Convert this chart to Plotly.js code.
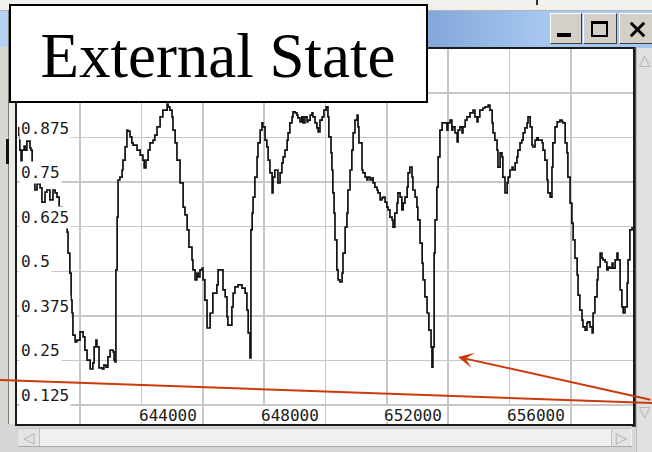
<!DOCTYPE html>
<html><head><meta charset="utf-8">
<script src="https://cdn.plot.ly/plotly-3.0.1.min.js"></script>
<style>
html,body{margin:0;padding:0;width:652px;height:452px;overflow:hidden;background:#dcdad4;}
#wrap{position:relative;width:652px;height:452px;}
.c{position:absolute;box-sizing:border-box;}
.btn{background:#d4d0c8;border-top:1px solid #ffffff;border-left:1px solid #ffffff;border-bottom:1px solid #404040;border-right:1px solid #404040;}
.g{font-family:"DejaVu Sans";color:#b0b0b0;font-size:15px;line-height:18px;text-align:center;}
#chart{position:absolute;left:0;top:0;width:652px;height:452px;}
</style></head><body>
<div id="wrap">
  <!-- window chrome -->
  <div class="c" style="left:0;top:0;width:652px;height:11px;background:#f1f0ec;border-bottom:1px solid #b4b4b4"></div>
  <div class="c" style="left:536px;top:0;width:2px;height:5px;background:#303030"></div>
  <div class="c" style="left:0;top:11px;width:652px;height:38px;background:linear-gradient(to right,#7599d0 0px,#7599d0 380px,#a6c8f0 545px,#a6c8f0 652px)"></div>
  <div class="c" style="left:0;top:11px;width:8px;height:36px;background:#b6d2f2"></div>
  <div class="c" style="left:0;top:47px;width:17px;height:405px;background:#d8d6d0"></div>
  <div class="c" style="left:8px;top:10px;width:1px;height:442px;background:#7c7c7c"></div>
  <div class="c" style="left:9px;top:47px;width:6px;height:405px;background:#eceae4"></div>
  <div class="c" style="left:15px;top:47px;width:2px;height:405px;background:#a8a8a8"></div>
  <div class="c" style="left:6px;top:139px;width:3px;height:25px;background:#101010"></div>
  <div class="c" style="left:0;top:424px;width:652px;height:28px;background:#d6d6d6"></div>
  <div class="c" style="left:18px;top:428px;width:614px;height:19px;background:#f0f0f0;border-top:1px solid #c4c4c4;border-bottom:1px solid #a8a8a8"></div>
  <div class="c g" style="left:18px;top:429px;width:22px;height:17px;background:#e4e4e4;border-right:1px solid #c0c0c0">&#9665;</div>
  <div class="c g" style="left:611px;top:429px;width:20px;height:17px;background:#e4e4e4;border-left:1px solid #c0c0c0">&#9655;</div>
  <div class="c" style="left:632px;top:47px;width:4px;height:380px;background:#4a4a4a"></div>
  <div class="c" style="left:636px;top:48px;width:16px;height:404px;background:#e0e0e0;border-left:1px solid #bcbcbc"></div>
  <div class="c g" style="left:637px;top:51px;width:15px;height:18px;">&#9651;</div>
  <div class="c g" style="left:637px;top:403px;width:15px;height:18px;">&#9661;</div>
  <div class="c btn" style="left:550px;top:13px;width:32px;height:31px"></div>
  <div class="c" style="left:557px;top:33px;width:14px;height:4px;background:#000"></div>
  <div class="c btn" style="left:583px;top:13px;width:34px;height:31px"></div>
  <div class="c" style="left:591px;top:21px;width:17px;height:16px;border:2px solid #000;border-top-width:3px"></div>
  <div class="c btn" style="left:619px;top:13px;width:36px;height:31px"></div>
  <div class="c" style="left:628px;top:28px;width:19px;height:3px;background:#000;transform:rotate(45deg)"></div>
  <div class="c" style="left:628px;top:28px;width:19px;height:3px;background:#000;transform:rotate(-45deg)"></div>
  <div id="chart"></div>
</div>
<script>
// ---- data ----
var position = [637980,638010,638040,638080,638110,638180,638210,638270,638340,638370,638400,638440,638470,638530,638600,638700,638760,638860,638920,639020,639120,639190,639250,639320,639410,639540,639580,639610,639670,639710,639740,639770,639840,639900,640000,640100,640160,640230,640330,640420,640460,640520,640550,640620,640720,640780,640850,640910,640980,641080,641110,641140,641170,641210,641240,641300,641370,641400,641470,641530,641560,641630,641690,641730,641860,641960,642050,642090,642150,642220,642280,642380,642440,642510,642610,642700,642840,642870,642930,643000,643030,643100,643160,643260,643360,643420,643490,643550,643650,643680,643750,643810,643850,643910,643980,644010,644070,644140,644240,644330,644460,644500,644630,644660,644730,644790,644820,644950,644990,645050,645150,645280,645380,645440,645480,645540,645570,645610,645640,645700,645770,645800,645870,645930,645960,646030,646090,646130,646190,646260,646290,646350,646420,646450,646520,646580,646620,646680,646750,646780,646840,646910,646940,647010,647070,647100,647170,647230,647270,647330,647400,647430,647500,647560,647590,647660,647720,647760,647820,647890,647950,648020,648080,648110,648180,648210,648240,648280,648310,648370,648410,648470,648540,648570,648640,648700,648730,648800,648860,648900,648960,649030,649060,649090,649190,649220,649290,649350,649380,649450,649520,649550,649610,649680,649710,649780,649840,649870,649940,650000,650040,650100,650170,650200,650260,650330,650360,650430,650490,650530,650590,650660,650690,650750,650820,650850,650920,650980,651010,651080,651150,651180,651240,651310,651370,651440,651470,651500,651540,651570,651630,651670,651730,651800,651890,651960,651990,652060,652120,652150,652220,652290,652320,652380,652450,652480,652550,652610,652710,652810,652870,652940,652970,653030,653130,653200,653300,653360,653430,653460,653520,653590,653620,653690,653750,653780,653850,653920,653950,654010,654080,654110,654180,654240,654270,654340,654400,654440,654500,654570,654600,654670,654730,654760,654830,654890,654930,654990,655060,655090,655150,655220,655250,655320,655380,655410,655480,655550,655640,655710,655740,655810,655870,655900,655970,656030,656070,656130,656200,656230,656290,656360,656390,656460,656520,656550,656620,656690,656720,656780,656850,656880,656950,657010,657040,657110,657170,657210,657270,657340,657370,657440,657500,657530,657600,657660,657700,657760,657830,657860,657920,657990];
var stateValue = [0.902,0.882,0.840,0.804,0.840,0.851,0.840,0.865,0.865,0.846,0.840,0.804,0.756,0.728,0.745,0.734,0.694,0.722,0.728,0.700,0.728,0.720,0.708,0.680,0.677,0.630,0.610,0.551,0.495,0.419,0.383,0.321,0.302,0.307,0.330,0.316,0.279,0.251,0.226,0.243,0.288,0.307,0.288,0.229,0.226,0.237,0.231,0.260,0.279,0.274,0.251,0.246,0.504,0.652,0.756,0.764,0.784,0.812,0.849,0.896,0.893,0.877,0.860,0.854,0.840,0.826,0.812,0.790,0.812,0.840,0.860,0.868,0.882,0.905,0.933,0.952,0.969,0.961,0.952,0.933,0.896,0.860,0.812,0.748,0.680,0.658,0.616,0.568,0.532,0.504,0.476,0.495,0.484,0.504,0.509,0.476,0.419,0.341,0.383,0.439,0.462,0.504,0.504,0.448,0.428,0.372,0.349,0.400,0.439,0.456,0.462,0.453,0.439,0.391,0.327,0.257,0.616,0.663,0.708,0.764,0.821,0.860,0.896,0.916,0.905,0.868,0.849,0.812,0.776,0.720,0.764,0.784,0.784,0.748,0.776,0.804,0.821,0.840,0.868,0.888,0.916,0.933,0.947,0.944,0.938,0.930,0.919,0.933,0.916,0.933,0.919,0.924,0.938,0.944,0.933,0.916,0.902,0.891,0.924,0.933,0.952,0.961,0.933,0.877,0.832,0.784,0.720,0.663,0.588,0.504,0.476,0.470,0.495,0.551,0.624,0.663,0.728,0.784,0.840,0.888,0.924,0.938,0.905,0.860,0.784,0.776,0.764,0.756,0.764,0.756,0.762,0.748,0.736,0.728,0.720,0.700,0.706,0.708,0.694,0.680,0.672,0.652,0.644,0.624,0.663,0.691,0.720,0.708,0.672,0.691,0.708,0.736,0.776,0.792,0.764,0.728,0.708,0.680,0.644,0.579,0.523,0.476,0.428,0.383,0.335,0.288,0.231,0.288,0.551,0.644,0.736,0.821,0.896,0.916,0.916,0.896,0.916,0.924,0.896,0.905,0.888,0.863,0.896,0.905,0.888,0.905,0.924,0.933,0.944,0.952,0.933,0.919,0.933,0.952,0.958,0.961,0.966,0.952,0.916,0.888,0.868,0.840,0.792,0.832,0.821,0.764,0.720,0.748,0.764,0.784,0.792,0.784,0.804,0.821,0.840,0.860,0.868,0.888,0.902,0.916,0.933,0.905,0.854,0.849,0.868,0.874,0.868,0.868,0.860,0.840,0.812,0.756,0.720,0.708,0.792,0.860,0.905,0.919,0.924,0.919,0.916,0.860,0.832,0.764,0.691,0.635,0.588,0.537,0.490,0.433,0.391,0.363,0.344,0.335,0.355,0.358,0.344,0.327,0.383,0.428,0.476,0.512,0.551,0.537,0.532,0.526,0.504,0.512,0.509,0.523,0.509,0.532,0.551,0.532,0.448,0.400,0.383,0.400,0.467,0.532,0.616,0.624];
var yTickVals = [0.125,0.25,0.375,0.5,0.625,0.75,0.875];
var yTickText = ['0.125','0.25','0.375','0.5','0.625','0.75','0.875'];
var yGridVals = [0.125,0.25,0.375,0.5,0.625,0.75,0.875,1.0];
var xTickVals = [644000,648000,652000,656000];
var xTickText = ['644000','648000','652000','656000'];
var xGridVals = [640000,642000,644000,646000,648000,650000,652000,654000,656000];
var chartTitle = 'External State';

// ---- layout helpers (pixel -> paper for decorations) ----
var L = 17, T = 49, PW = 616, PH = 375;
function px(x){ return (x - L) / PW; }
function py(y){ return (T + PH - y) / PH; }

var tickFont = {family:'DejaVu Sans Mono, monospace', size:16, color:'#1a1a1a'};
var annotations = [];
var shapes = [];
yTickVals.forEach(function(v, i){
  annotations.push({xref:'paper', x:px(19), xanchor:'left', yref:'y', y:v, yanchor:'bottom', yshift:-2,
    text:yTickText[i], showarrow:false, bgcolor:'#ffffff', borderpad:1, font:tickFont});
});
xTickVals.forEach(function(v, i){
  // white backing behind the x tick label, masking the grid only
  shapes.push({type:'rect', xref:'x', xsizemode:'pixel', xanchor:v, x0:-65, x1:-3,
    yref:'paper', y0:py(422), y1:py(406), line:{width:0}, fillcolor:'#ffffff', layer:'above'});
  annotations.push({xref:'x', x:v, xanchor:'right', xshift:-4, yref:'paper', y:py(415), yanchor:'middle',
    text:xTickText[i], showarrow:false, borderpad:1, font:tickFont});
});
var red = '#cc3a0a';
annotations.push({xref:'paper', yref:'paper', x:px(458), y:py(357), ax:194, ay:43, axref:'pixel', ayref:'pixel',
  text:'', showarrow:true, arrowhead:3, arrowsize:1.3, arrowwidth:2, arrowcolor:red, standoff:0});

shapes.push(
  {type:'rect', xref:'paper', yref:'paper', x0:px(10), x1:px(427), y0:py(102), y1:py(5),
   line:{color:'#000', width:2}, fillcolor:'#ffffff', layer:'above'},
  {type:'line', xref:'paper', yref:'paper', x0:px(0), y0:py(380), x1:px(652), y1:py(403),
   line:{color:red, width:2}, layer:'above'}
);

var trace = {type:'scatter', mode:'lines', x:position, y:stateValue,
  line:{color:'#111111', width:1.7, shape:'hv'}, hoverinfo:'skip'};

var layout = {
  width:652, height:452,
  margin:{l:L, r:652-L-PW, t:T, b:452-T-PH, pad:0},
  paper_bgcolor:'rgba(0,0,0,0)', plot_bgcolor:'#ffffff',
  showlegend:false,
  title:{text:chartTitle, font:{family:'Liberation Serif, Times New Roman, serif', size:63, color:'#000'},
    xref:'paper', x:px(218), xanchor:'center', yref:'container', y:1-54.5/452, yanchor:'middle'},
  xaxis:{range:[637947,658021], tickmode:'array', tickvals:xGridVals, showticklabels:false, ticks:'',
    showgrid:true, gridcolor:'#c8c8c8', gridwidth:1.5, zeroline:false,
    showline:true, linecolor:'#1a1a1a', linewidth:2, mirror:true, fixedrange:true},
  yaxis:{range:[0.0717,1.1234], tickmode:'array', tickvals:yGridVals, showticklabels:false, ticks:'',
    showgrid:true, gridcolor:'#c8c8c8', gridwidth:1.5, zeroline:false,
    showline:true, linecolor:'#1a1a1a', linewidth:2, mirror:true, fixedrange:true},
  shapes:shapes, annotations:annotations
};
Plotly.newPlot('chart', [trace], layout, {displayModeBar:false, staticPlot:true});
</script>
</body></html>
